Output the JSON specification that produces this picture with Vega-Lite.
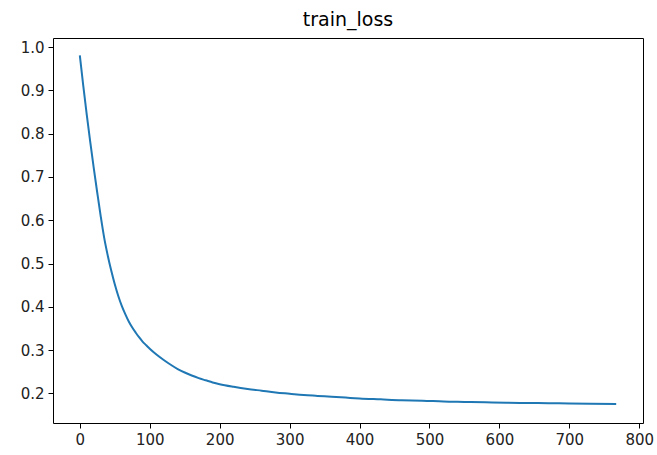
{
  "$schema": "https://vega.github.io/schema/vega-lite/v6.json",
  "width": 590,
  "height": 385,
  "autosize": {"type": "none"},
  "padding": {"left": 53, "top": 38, "right": 14, "bottom": 32},
  "background": "white",
  "title": {"text": "train_loss", "font": "DejaVu Sans", "fontSize": 19, "fontWeight": "normal", "color": "#000", "anchor": "middle", "offset": 8},
  "config": {
    "view": {"stroke": "#000", "strokeWidth": 1},
    "axis": {"grid": false, "domain": false, "tickColor": "#000", "tickSize": 5, "tickWidth": 1, "labelFont": "DejaVu Sans", "labelFontSize": 15, "labelColor": "#222", "labelPadding": 4, "title": null}
  },
  "data": {"values": [
    {"step": 0, "loss": 0.981}, {"step": 5, "loss": 0.91}, {"step": 10, "loss": 0.843}, {"step": 15, "loss": 0.78},
    {"step": 20, "loss": 0.72}, {"step": 25, "loss": 0.663}, {"step": 30, "loss": 0.608}, {"step": 35, "loss": 0.558},
    {"step": 40, "loss": 0.518}, {"step": 45, "loss": 0.483}, {"step": 50, "loss": 0.452}, {"step": 55, "loss": 0.425},
    {"step": 60, "loss": 0.402}, {"step": 65, "loss": 0.383}, {"step": 70, "loss": 0.366}, {"step": 75, "loss": 0.352},
    {"step": 80, "loss": 0.34}, {"step": 85, "loss": 0.329}, {"step": 90, "loss": 0.319}, {"step": 95, "loss": 0.311},
    {"step": 100, "loss": 0.303}, {"step": 110, "loss": 0.289}, {"step": 120, "loss": 0.277}, {"step": 130, "loss": 0.266},
    {"step": 140, "loss": 0.256}, {"step": 150, "loss": 0.248}, {"step": 160, "loss": 0.241}, {"step": 170, "loss": 0.235},
    {"step": 180, "loss": 0.23}, {"step": 190, "loss": 0.225}, {"step": 200, "loss": 0.221}, {"step": 220, "loss": 0.215},
    {"step": 240, "loss": 0.21}, {"step": 260, "loss": 0.206}, {"step": 280, "loss": 0.202}, {"step": 300, "loss": 0.199},
    {"step": 320, "loss": 0.196}, {"step": 340, "loss": 0.194}, {"step": 360, "loss": 0.192}, {"step": 380, "loss": 0.19},
    {"step": 400, "loss": 0.188}, {"step": 430, "loss": 0.186}, {"step": 460, "loss": 0.184}, {"step": 490, "loss": 0.183},
    {"step": 520, "loss": 0.181}, {"step": 550, "loss": 0.18}, {"step": 580, "loss": 0.179}, {"step": 610, "loss": 0.178},
    {"step": 640, "loss": 0.1775}, {"step": 670, "loss": 0.177}, {"step": 700, "loss": 0.1765}, {"step": 730, "loss": 0.176},
    {"step": 767, "loss": 0.1755}
  ]},
  "mark": {"type": "line", "color": "#1f77b4", "strokeWidth": 2, "interpolate": "monotone"},
  "encoding": {
    "x": {"field": "step", "type": "quantitative", "scale": {"domain": [-38.35, 805.35], "nice": false, "zero": false}, "axis": {"values": [0, 100, 200, 300, 400, 500, 600, 700, 800]}},
    "y": {"field": "loss", "type": "quantitative", "scale": {"domain": [0.1313, 1.0213], "nice": false, "zero": false}, "axis": {"values": [0.2, 0.3, 0.4, 0.5, 0.6, 0.7, 0.8, 0.9, 1.0], "format": ".1f"}}
  }
}
